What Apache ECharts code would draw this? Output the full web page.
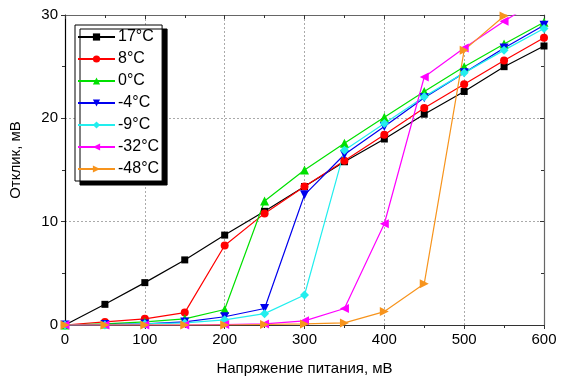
<!DOCTYPE html>
<html>
<head>
    <meta http-equiv="content-type" content="text/html; charset=utf-8" />
    <title>Отклик</title>
    <script src="https://cdn.jsdelivr.net/npm/echarts@6.0.0/dist/echarts.min.js"></script>
    <style>
        html, body { margin: 0; padding: 0; background: #fff; }
        #chart { width: 583px; height: 388px; }
    </style>
</head>
<body>
<div id="chart"></div>
<script>
// напряжение питания, мВ
var voltage = [0, 50, 100, 150, 200, 250, 300, 350, 400, 450, 500, 550, 600];
// отклик, мВ
var t17  = [0, 2.0, 4.1, 6.3, 8.7, 11.0, 13.4, 15.8, 18.0, 20.4, 22.6, 25.0, 27.0];
var t8   = [0, 0.3, 0.6, 1.2, 7.7, 10.8, 13.4, 15.9, 18.4, 21.0, 23.3, 25.6, 27.8];
var t0   = [0, 0.1, 0.3, 0.6, 1.5, 12.0, 15.0, 17.6, 20.1, 22.6, 25.0, 27.2, 29.3];
var tm4  = [0, 0.05, 0.1, 0.3, 0.8, 1.6, 12.6, 16.5, 19.2, 22.0, 24.4, 26.8, 29.0];
var tm9  = [0, 0, 0.1, 0.2, 0.5, 1.1, 2.9, 16.9, 19.5, 22.1, 24.4, 26.6, 28.7];
var tm32 = [0, 0, 0, 0, 0.05, 0.1, 0.4, 1.6, 9.8, 24.0, 26.8, 29.4, 31.8];
var tm48 = [0, 0, 0, 0, 0, 0.05, 0.1, 0.2, 1.3, 4.0, 26.6, 29.9, 33.0];

var names   = ['17°C', '8°C', '0°C', '-4°C', '-9°C', '-32°C', '-48°C'];
var values  = [t17, t8, t0, tm4, tm9, tm32, tm48];
var colors  = ['#000000', '#ff0000', '#00e000', '#0000ee', '#22eeee', '#ff00ff', '#f7941d'];
var symbols = ['rect', 'circle', 'triangle', 'triangle', 'diamond', 'triangle', 'triangle'];
var rotates = [0, 0, 0, 180, 0, 90, -90];
var sizes   = [7, 8, 9, 9, 9, 9, 9];

var font = 'Liberation Sans, Arial, sans-serif';

function pairs(ys){
    var out = [];
    for (var i = 0; i < voltage.length; i++) {
        out.push([voltage[i], ys[i]]);
    }
    return out;
}

var series = [];
for (var k = 0; k < names.length; k++) {
    series.push({
        name: names[k],
        type: 'line',
        data: pairs(values[k]),
        symbol: symbols[k],
        symbolSize: sizes[k],
        symbolRotate: rotates[k],
        showAllSymbol: true,
        clip: true,
        lineStyle: { width: 1.2, color: colors[k] },
        itemStyle: { color: colors[k] },
        emphasis: { disabled: true },
        animation: false
    });
}

var myChart = echarts.init(document.getElementById('chart'));

var gridLine = { show: true, lineStyle: { color: '#aaaaaa', type: [2, 2], width: 1 } };

var option = {
    backgroundColor: '#ffffff',
    textStyle: { fontFamily: font },
    grid: { left: 65, right: 39, top: 15, bottom: 63 },
    legend: {
        orient: 'vertical',
        left: 75,
        top: 25,
        data: names,
        itemWidth: 37,
        itemHeight: 9,
        itemGap: 6,
        padding: [4, 3, 4, 2],
        backgroundColor: '#ffffff',
        borderColor: '#000000',
        borderWidth: 1,
        shadowColor: '#000000',
        shadowBlur: 0,
        shadowOffsetX: 5,
        shadowOffsetY: 4,
        textStyle: { fontSize: 16, color: '#000', fontFamily: font, padding: [0, 0, 0, -2] }
    },
    xAxis: [{
        type: 'value',
        position: 'bottom',
        min: 0,
        max: 600,
        interval: 100,
        name: 'Напряжение питания, мВ',
        nameLocation: 'middle',
        nameGap: 36,
        nameTextStyle: { fontSize: 15, color: '#000', fontFamily: font },
        axisLine: { onZero: false, lineStyle: { color: '#333', width: 1.2 } },
        axisTick: { length: 4, lineStyle: { color: '#333' } },
        minorTick: { show: true, splitNumber: 2, length: 3, lineStyle: { color: '#333' } },
        axisLabel: { fontSize: 15, color: '#000', margin: 7, fontFamily: font },
        splitLine: gridLine
    }, {
        type: 'value',
        position: 'top',
        min: 0,
        max: 600,
        interval: 100,
        axisLine: { onZero: false, lineStyle: { color: '#666', width: 1.2 } },
        axisTick: { inside: true, length: 4, lineStyle: { color: '#333' } },
        minorTick: { show: true, splitNumber: 2, length: 3, lineStyle: { color: '#333' } },
        axisLabel: { show: false },
        splitLine: { show: false }
    }],
    yAxis: [{
        type: 'value',
        position: 'left',
        min: 0,
        max: 30,
        interval: 10,
        name: 'Отклик, мВ',
        nameLocation: 'middle',
        nameGap: 42,
        nameRotate: 90,
        nameTextStyle: { fontSize: 15, color: '#000', fontFamily: font, padding: [0, 0, 0, 20] },
        axisLine: { show: true, onZero: false, lineStyle: { color: '#000', width: 1.2 } },
        axisTick: { show: true, length: 4, lineStyle: { color: '#333' } },
        minorTick: { show: true, splitNumber: 2, length: 3, lineStyle: { color: '#333' } },
        axisLabel: { fontSize: 15, color: '#000', margin: 7, fontFamily: font },
        splitLine: gridLine
    }, {
        type: 'value',
        position: 'right',
        min: 0,
        max: 30,
        interval: 10,
        axisLine: { show: true, onZero: false, lineStyle: { color: '#666', width: 1.2 } },
        axisTick: { show: true, inside: true, length: 4, lineStyle: { color: '#333' } },
        minorTick: { show: true, splitNumber: 2, length: 3, lineStyle: { color: '#333' } },
        axisLabel: { show: false },
        splitLine: { show: false }
    }],
    series: series
};

myChart.setOption(option);
</script>
</body>
</html>
